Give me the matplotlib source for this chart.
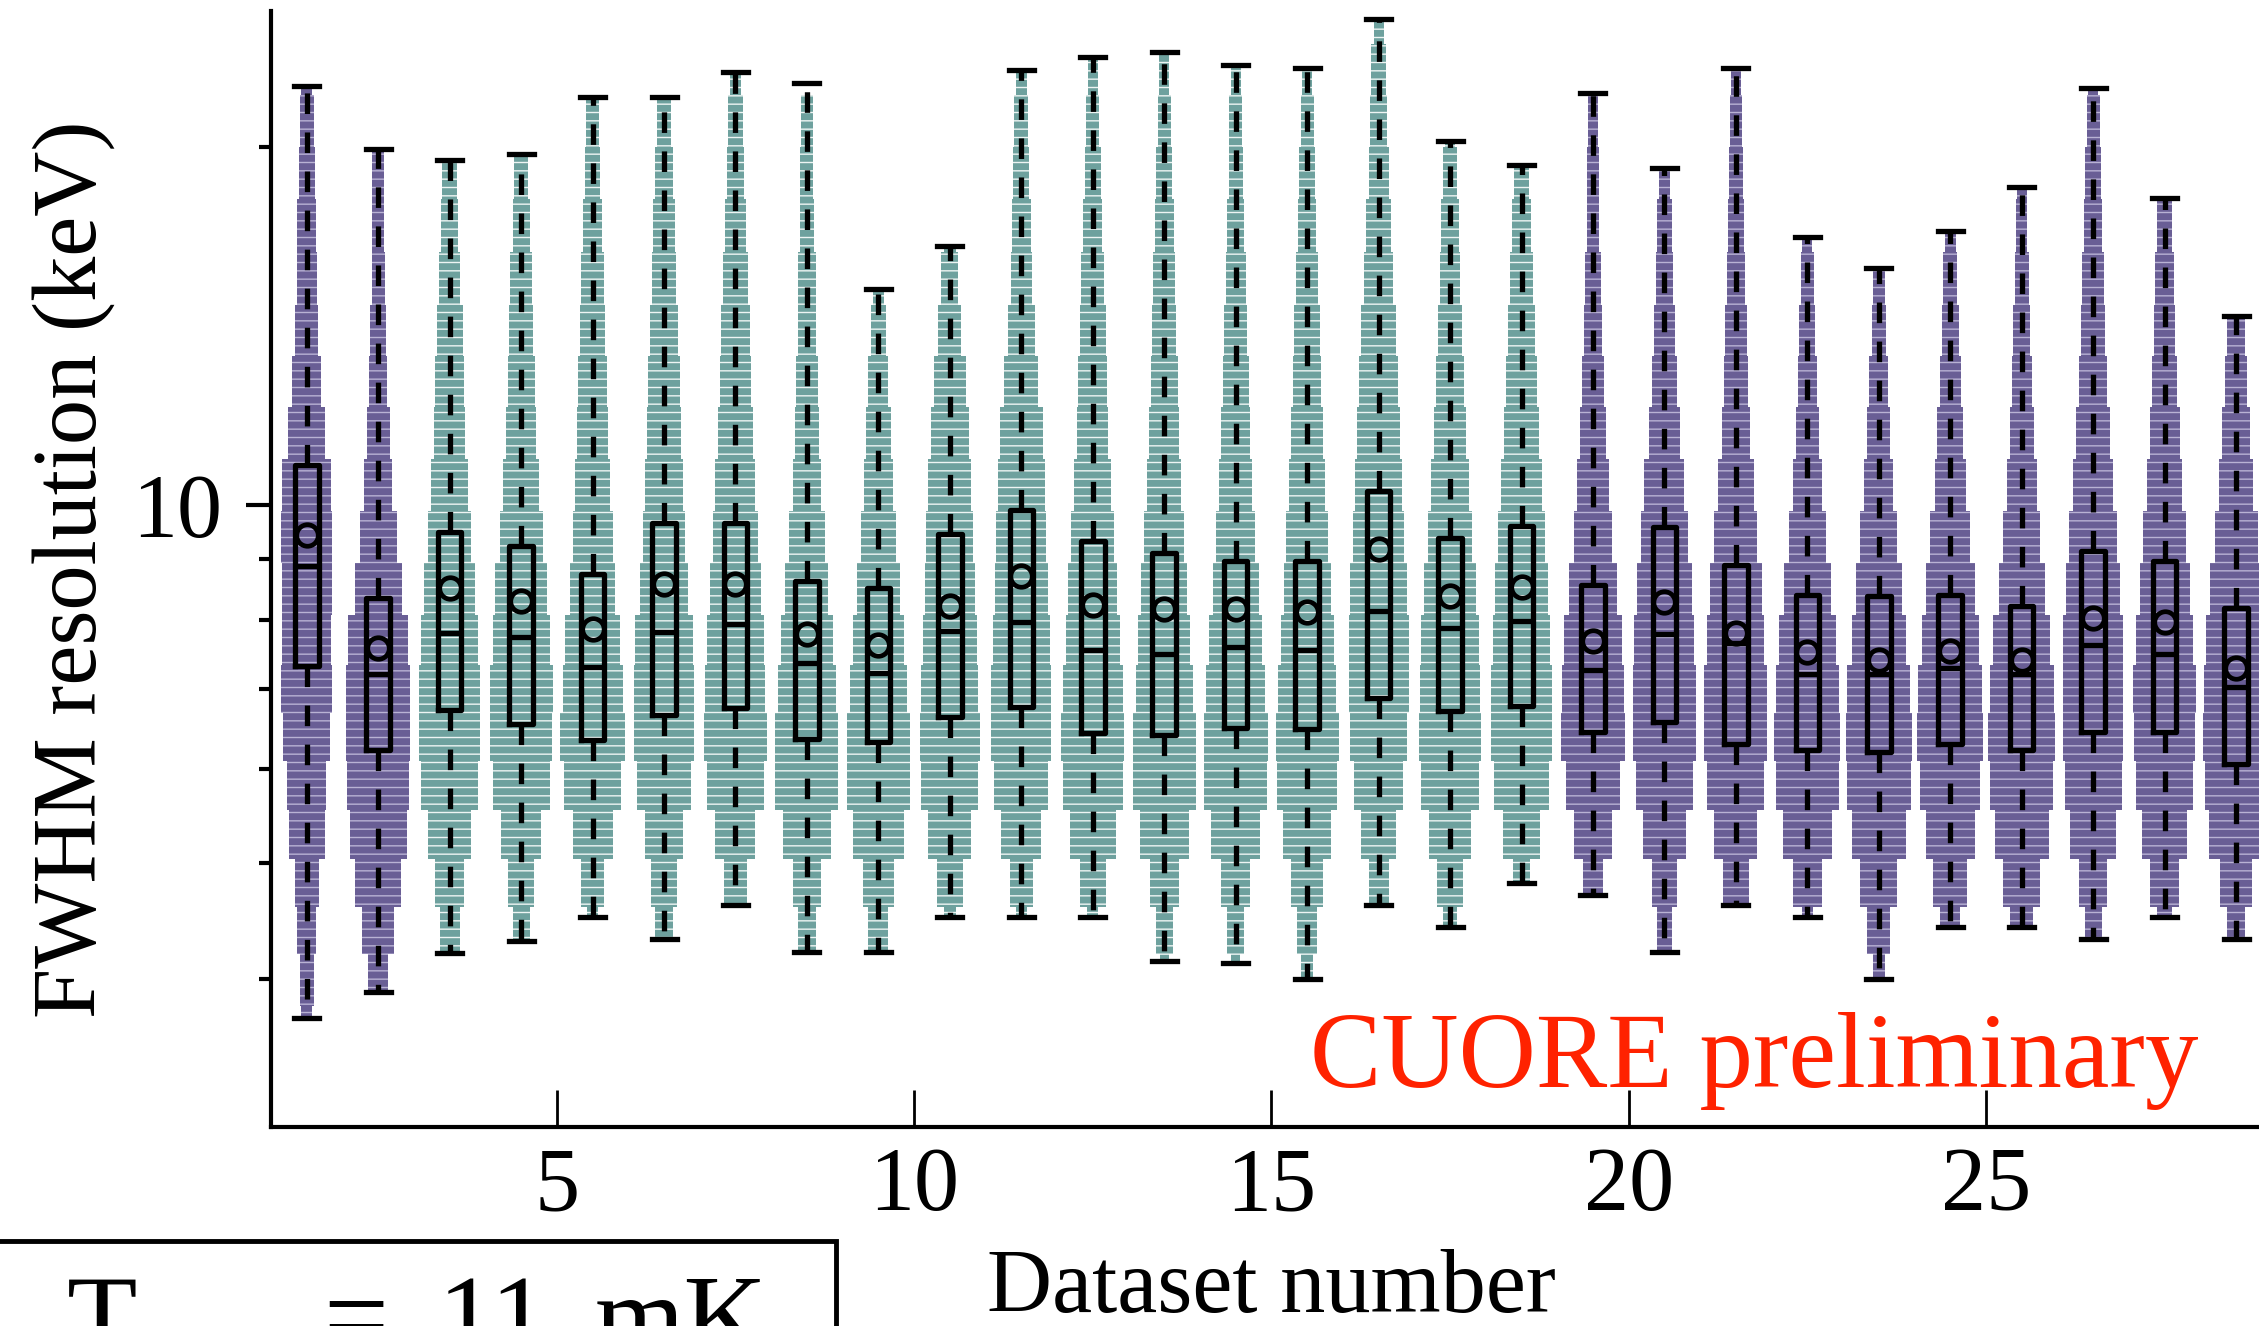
import numpy as np
import matplotlib
matplotlib.use("Agg")
import matplotlib.pyplot as plt
from matplotlib.patches import Rectangle
from matplotlib.ticker import FixedLocator, FixedFormatter, NullFormatter

plt.rcParams['font.family'] = ['Liberation Serif', 'DejaVu Serif']
plt.rcParams['hatch.linewidth'] = 1.0

# ---------------- data ----------------
datasets = np.arange(1, 29)
group = ['A', 'A'] + ['B'] * 16 + ['A'] * 10
group_colors = {'A': '#695e95', 'B': '#6ea19e'}
gap_colors = {'A': '#b9b2d4', 'B': '#eef5f4'}

whislo = [3.71, 3.90, 4.20, 4.30, 4.51, 4.32, 4.61, 4.21, 4.21, 4.51,
          4.51, 4.51, 4.14, 4.12, 4.00, 4.61, 4.42, 4.81, 4.70, 4.21,
          4.61, 4.51, 4.00, 4.42, 4.42, 4.32, 4.51, 4.32]
q1 = [7.33, 6.22, 6.72, 6.55, 6.35, 6.66, 6.75, 6.36, 6.32, 6.63,
      6.76, 6.43, 6.41, 6.50, 6.48, 6.88, 6.71, 6.78, 6.45, 6.57,
      6.30, 6.23, 6.20, 6.30, 6.22, 6.45, 6.45, 6.06]
med = [8.89, 7.21, 7.80, 7.75, 7.31, 7.82, 7.94, 7.37, 7.23, 7.84,
       7.97, 7.55, 7.49, 7.60, 7.55, 8.15, 7.88, 7.99, 7.27, 7.79,
       7.66, 7.21, 7.21, 7.30, 7.21, 7.62, 7.49, 7.03]
mean = [9.44, 7.58, 8.51, 8.30, 7.86, 8.59, 8.59, 7.79, 7.62, 8.22,
        8.71, 8.24, 8.17, 8.17, 8.13, 9.19, 8.38, 8.54, 7.69, 8.29,
        7.81, 7.52, 7.41, 7.54, 7.41, 8.04, 7.97, 7.30]
q3 = [10.8, 8.36, 9.49, 9.23, 8.75, 9.66, 9.65, 8.64, 8.52, 9.45,
      9.90, 9.32, 9.11, 8.98, 8.98, 10.27, 9.39, 9.60, 8.57, 9.58,
      8.91, 8.40, 8.38, 8.40, 8.22, 9.14, 8.98, 8.19]
whishi = [22.5, 19.9, 19.5, 19.7, 22.0, 22.0, 23.1, 22.6, 15.2, 16.5,
          23.2, 23.8, 24.0, 23.4, 23.3, 25.6, 20.2, 19.3, 22.2, 19.2,
          23.3, 16.8, 15.8, 17.0, 18.5, 22.4, 18.1, 14.4]

# density profile: half-width (in dataset units) of each histogram level (keV)
levels = [3.6, 4.0, 4.4, 4.8, 5.3, 5.8, 6.4, 7.0, 7.7, 8.5, 9.4,
          10.4, 11.5, 12.7, 14.0, 15.5, 17.2, 19.0, 21.0, 23.3, 25.5]
profiles = [
    [0.08, 0.10, 0.13, 0.17, 0.25, 0.27, 0.33, 0.36, 0.34, 0.35, 0.36, 0.34, 0.26, 0.20, 0.16, 0.14, 0.13, 0.11, 0.10, 0.08, 0],
    [0, 0.14, 0.22, 0.32, 0.40, 0.43, 0.45, 0.45, 0.42, 0.33, 0.26, 0.20, 0.16, 0.13, 0.11, 0.09, 0.08, 0.08, 0, 0, 0],
    [0, 0, 0.14, 0.20, 0.30, 0.40, 0.43, 0.43, 0.40, 0.36, 0.30, 0.26, 0.22, 0.20, 0.18, 0.15, 0.12, 0.10, 0, 0, 0],
    [0, 0, 0.12, 0.18, 0.28, 0.40, 0.43, 0.44, 0.40, 0.36, 0.30, 0.25, 0.21, 0.19, 0.17, 0.15, 0.12, 0.10, 0, 0, 0],
    [0, 0, 0.08, 0.16, 0.28, 0.40, 0.46, 0.42, 0.38, 0.32, 0.28, 0.24, 0.22, 0.20, 0.18, 0.16, 0.13, 0.11, 0.09, 0, 0],
    [0, 0, 0.12, 0.18, 0.27, 0.38, 0.42, 0.42, 0.40, 0.34, 0.30, 0.26, 0.24, 0.22, 0.20, 0.17, 0.15, 0.12, 0.10, 0, 0],
    [0, 0, 0, 0.16, 0.28, 0.40, 0.44, 0.42, 0.40, 0.36, 0.32, 0.28, 0.25, 0.22, 0.20, 0.17, 0.15, 0.12, 0.10, 0.08, 0],
    [0, 0, 0.12, 0.20, 0.34, 0.44, 0.44, 0.40, 0.36, 0.30, 0.25, 0.20, 0.17, 0.15, 0.13, 0.12, 0.10, 0.09, 0.08, 0, 0],
    [0, 0, 0.14, 0.22, 0.36, 0.44, 0.44, 0.40, 0.36, 0.30, 0.24, 0.20, 0.17, 0.14, 0.11, 0.08, 0, 0, 0, 0, 0],
    [0, 0, 0.08, 0.18, 0.30, 0.40, 0.42, 0.40, 0.38, 0.35, 0.33, 0.30, 0.27, 0.22, 0.16, 0.12, 0.08, 0, 0, 0, 0],
    [0, 0, 0.08, 0.16, 0.28, 0.38, 0.42, 0.42, 0.40, 0.37, 0.35, 0.33, 0.30, 0.24, 0.19, 0.15, 0.13, 0.11, 0.10, 0.08, 0],
    [0, 0, 0.08, 0.18, 0.32, 0.42, 0.44, 0.42, 0.38, 0.34, 0.30, 0.26, 0.22, 0.20, 0.18, 0.16, 0.13, 0.11, 0.09, 0.07, 0],
    [0, 0.06, 0.12, 0.20, 0.34, 0.44, 0.44, 0.40, 0.36, 0.32, 0.28, 0.24, 0.21, 0.19, 0.17, 0.15, 0.13, 0.11, 0.09, 0.07, 0],
    [0, 0.06, 0.12, 0.20, 0.34, 0.44, 0.45, 0.41, 0.37, 0.32, 0.27, 0.23, 0.20, 0.18, 0.16, 0.14, 0.12, 0.10, 0.09, 0.07, 0],
    [0, 0.08, 0.14, 0.22, 0.34, 0.42, 0.44, 0.41, 0.37, 0.33, 0.29, 0.25, 0.22, 0.20, 0.18, 0.15, 0.13, 0.11, 0.09, 0.07, 0],
    [0, 0, 0, 0.14, 0.24, 0.34, 0.40, 0.42, 0.42, 0.40, 0.36, 0.33, 0.30, 0.27, 0.24, 0.20, 0.17, 0.14, 0.12, 0.10, 0.07],
    [0, 0, 0.10, 0.18, 0.30, 0.40, 0.43, 0.42, 0.40, 0.36, 0.31, 0.27, 0.23, 0.20, 0.17, 0.14, 0.12, 0.10, 0.07, 0, 0],
    [0, 0, 0, 0.12, 0.26, 0.38, 0.43, 0.42, 0.40, 0.37, 0.33, 0.29, 0.25, 0.22, 0.19, 0.16, 0.13, 0.10, 0, 0, 0],
    [0, 0, 0, 0.14, 0.26, 0.38, 0.45, 0.44, 0.40, 0.33, 0.27, 0.22, 0.18, 0.15, 0.13, 0.11, 0.09, 0.08, 0.07, 0, 0],
    [0, 0, 0.10, 0.18, 0.30, 0.40, 0.44, 0.44, 0.42, 0.38, 0.33, 0.28, 0.22, 0.18, 0.15, 0.12, 0.10, 0.08, 0, 0, 0],
    [0, 0, 0, 0.18, 0.30, 0.40, 0.44, 0.44, 0.40, 0.36, 0.30, 0.25, 0.20, 0.17, 0.15, 0.13, 0.11, 0.10, 0.08, 0.07, 0],
    [0, 0, 0.08, 0.20, 0.34, 0.44, 0.46, 0.44, 0.40, 0.33, 0.26, 0.20, 0.16, 0.13, 0.11, 0.09, 0.07, 0, 0, 0, 0],
    [0, 0.08, 0.16, 0.26, 0.38, 0.45, 0.46, 0.44, 0.38, 0.32, 0.26, 0.20, 0.16, 0.13, 0.10, 0.08, 0, 0, 0, 0, 0],
    [0, 0, 0.14, 0.24, 0.34, 0.42, 0.46, 0.45, 0.40, 0.34, 0.28, 0.22, 0.18, 0.15, 0.12, 0.10, 0.08, 0, 0, 0, 0],
    [0, 0, 0.16, 0.26, 0.38, 0.44, 0.47, 0.45, 0.40, 0.32, 0.26, 0.21, 0.17, 0.14, 0.12, 0.10, 0.08, 0.07, 0, 0, 0],
    [0, 0, 0.12, 0.20, 0.32, 0.40, 0.42, 0.42, 0.42, 0.38, 0.34, 0.28, 0.24, 0.20, 0.17, 0.15, 0.13, 0.11, 0.09, 0.07, 0],
    [0, 0, 0.10, 0.20, 0.32, 0.40, 0.43, 0.44, 0.40, 0.35, 0.30, 0.25, 0.21, 0.17, 0.15, 0.13, 0.11, 0.08, 0, 0, 0],
    [0, 0, 0.12, 0.22, 0.38, 0.44, 0.46, 0.45, 0.42, 0.36, 0.30, 0.24, 0.19, 0.15, 0.12, 0.08, 0, 0, 0, 0, 0],
]

y_major = [10]
y_minor = [4, 5, 6, 7, 8, 9, 20]
x_ticks = [5, 10, 15, 20, 25]

# ---------------- figure ----------------
W, H = 2259, 1326
fig = plt.figure(figsize=(W / 100, H / 100), dpi=100)
ax_left, ax_right, ax_bottom, ax_top = 271, 2271.8, 1127.4, 11.0
ax = fig.add_axes([ax_left / W, 1 - ax_bottom / H,
                   (ax_right - ax_left) / W, (ax_bottom - ax_top) / H])
ax.set_yscale('log')
ax.set_xlim(1, 29)
ax.set_ylim(3, 26)

positions = datasets + 0.5

# histogram "beans"
lv = np.log10(levels)
edges = np.concatenate([[lv[0] - (lv[1] - lv[0]) / 2],
                        (lv[1:] + lv[:-1]) / 2,
                        [lv[-1] + (lv[-1] - lv[-2]) / 2]])
edges = 10 ** edges
for k, x in enumerate(positions):
    col = group_colors[group[k]]
    gap = gap_colors[group[k]]
    for j, w in enumerate(profiles[k]):
        if w <= 0:
            continue
        lo = max(edges[j], whislo[k])
        hi = min(edges[j + 1], whishi[k])
        if hi <= lo:
            continue
        ax.barh(lo, 2 * w, height=hi - lo, left=x - w, align='edge',
                color=col, edgecolor=gap, linewidth=0, hatch='--', zorder=1)

stats = [dict(med=med[k], q1=q1[k], q3=q3[k], whislo=whislo[k],
              whishi=whishi[k], mean=mean[k]) for k in range(len(datasets))]
ax.bxp(stats, positions=positions, widths=0.33, capwidths=0.35,
       showmeans=True, showfliers=False, patch_artist=False, manage_ticks=False,
       boxprops=dict(color='black', linewidth=3.8),
       whiskerprops=dict(color='black', linewidth=3.8, linestyle=(0, (3.9, 3.5))),
       capprops=dict(color='black', linewidth=3.8),
       medianprops=dict(color='black', linewidth=3.8),
       meanprops=dict(marker='o', markerfacecolor='none', markeredgecolor='black',
                      markersize=15.5, markeredgewidth=3.4),
       zorder=3)

# axes styling
for s in ['top', 'right']:
    ax.spines[s].set_visible(False)
for s in ['left', 'bottom']:
    ax.spines[s].set_linewidth(3)

ax.yaxis.set_major_locator(FixedLocator(y_major))
ax.yaxis.set_major_formatter(FixedFormatter([str(v) for v in y_major]))
ax.yaxis.set_minor_locator(FixedLocator(y_minor))
ax.yaxis.set_minor_formatter(NullFormatter())
ax.tick_params(axis='y', which='major', direction='out', length=18, width=3,
               labelsize=65, pad=17)
ax.tick_params(axis='y', which='minor', direction='out', length=9, width=3)
ax.set_xticks(x_ticks)
ax.set_xticklabels([str(v) for v in x_ticks])
ax.tick_params(axis='x', which='major', direction='in', length=27, width=2,
               labelsize=65, pad=14)
ax.tick_params(axis='x', which='minor', bottom=False)

ax.set_ylabel('FWHM resolution (keV)', fontsize=65, va='baseline', ha='center')
ax.yaxis.set_label_coords((96 - ax_left) / (ax_right - ax_left), 0.5)
ax.set_xlabel('Dataset number', fontsize=65, va='baseline', ha='center')
ax.xaxis.set_label_coords(0.5, -(1312 - ax_bottom) / (ax_bottom - ax_top))

fig.text(1310 / W, 1 - 1087 / H, 'CUORE preliminary', fontsize=77,
         color='#ff2200', va='baseline', ha='left')

# temperature box (cut by the lower-left corner of the figure)
rect = Rectangle((-0.02, -0.2), 836 / W + 0.02, (H - 1240.8) / H + 0.2,
                 transform=fig.transFigure, fill=False, linewidth=3.5,
                 edgecolor='black', clip_on=False)
fig.add_artist(rect)
tb = 1 - 1354 / H
fig.text(67 / W, tb, 'T', fontsize=83, va='baseline', ha='left')
fig.text(137 / W, 1 - 1392 / H, 'base', fontsize=58, va='baseline', ha='left')
fig.text(323 / W, tb, '=', fontsize=83, va='baseline', ha='left')
fig.text(438 / W, tb, '11', fontsize=83, va='baseline', ha='left')
fig.text(595 / W, tb, 'mK', fontsize=83, va='baseline', ha='left')

fig.savefig('out.png', dpi=100)
